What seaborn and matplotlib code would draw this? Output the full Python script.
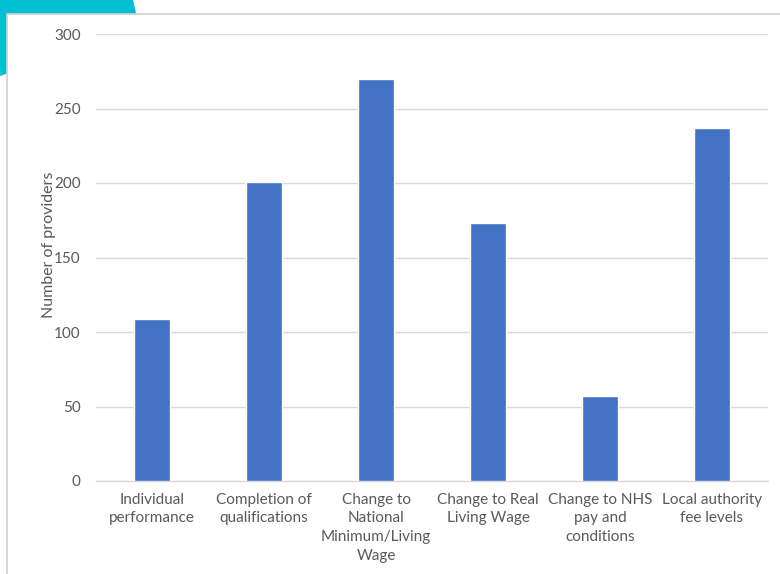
import matplotlib
matplotlib.use("Agg")
import matplotlib.pyplot as plt
import seaborn as sns
import pandas as pd
from matplotlib.patches import Polygon, Rectangle

categories = [
    "Individual\nperformance",
    "Completion of\nqualifications",
    "Change to\nNational\nMinimum/Living\nWage",
    "Change to Real\nLiving Wage",
    "Change to NHS\npay and\nconditions",
    "Local authority\nfee levels",
]
values = [109, 201, 270, 173, 57, 237]
y_ticks = [0, 50, 100, 150, 200, 250, 300]
y_label = "Number of providers"

sns.set_theme(style="white")
plt.rcParams["font.family"] = ["Lato", "DejaVu Sans"]

W, H = 780, 574
fig = plt.figure(figsize=(W / 100, H / 100), dpi=100)
fig.patch.set_facecolor("white")

def px(x, y):
    return (x / W, 1 - y / H)

# cyan decorative shape behind the panel
cyan = Polygon([px(0, 0), px(133, 0), px(140, 30), px(60, 55), px(0, 76)],
               closed=True, transform=fig.transFigure, facecolor="#00BED4",
               edgecolor="none", zorder=-3)
fig.patches.append(cyan)
# white panel with light border
x0, y0 = px(7, 14)
panel = Rectangle((x0, -0.1), 1.2, y0 + 0.1, transform=fig.transFigure,
                  facecolor="white", edgecolor="#D0D0D0", linewidth=1.2, zorder=-2)
fig.patches.append(panel)

ax = fig.add_axes([96 / W, (H - 481) / H, 672 / W, 447 / H])
ax.set_facecolor("none")

df = pd.DataFrame({"category": categories, "value": values})
sns.barplot(data=df, x="category", y="value", color="#4472C4", saturation=1,
            width=0.32, ax=ax, zorder=3)

ax.set_ylim(0, 300)
ax.set_xlim(-0.5, len(categories) - 0.5)
ax.set_yticks(y_ticks)
ax.yaxis.grid(True, color="#D9D9D9", linewidth=1.0, zorder=0)
ax.set_axisbelow(True)
for s in ["top", "right", "left"]:
    ax.spines[s].set_visible(False)
ax.spines["bottom"].set_color("#D9D9D9")
ax.spines["bottom"].set_linewidth(1.0)

ax.tick_params(axis="y", length=0, pad=11, labelsize=11, labelcolor="#595959")
ax.tick_params(axis="x", length=0, pad=8.5, labelsize=11, labelcolor="#595959")
for lbl in ax.get_xticklabels():
    lbl.set_linespacing(1.42)

ax.set_xlabel("")
ax.set_ylabel(y_label, fontsize=11.5, color="#595959")
ax.yaxis.set_label_coords(-0.059, 0.528)

fig.savefig("out.png", dpi=100)
